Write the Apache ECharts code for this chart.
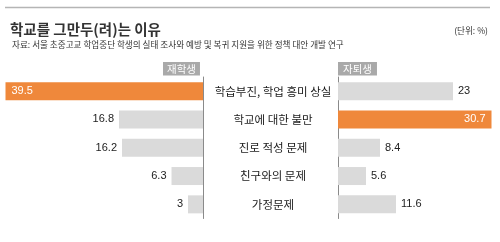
<!DOCTYPE html>
<html><head><meta charset="utf-8">
<script src="https://cdn.jsdelivr.net/npm/echarts@6/dist/echarts.min.js"></script>
<style>html,body{margin:0;padding:0;background:#fff}#c{width:500px;height:242px}</style>
</head><body><div id="c"></div>
<script>
const categories = ['학습부진, 학업 흥미 상실', '학교에 대한 불만', '진로 적성 문제', '친구와의 문제', '가정문제'];
const enrolled = [39.5, 16.8, 16.2, 6.3, 3];      // 재학생
const dropouts = [23, 30.7, 8.4, 5.6, 11.6];      // 자퇴생
const seriesNames = ['재학생', '자퇴생'];
const titleText = '학교를 그만두(려)는 이유';
const sourceText = '자료: 서울 초중고교 학업중단 학생의 실태 조사와 예방 및 복귀 지원을 위한 정책 대안 개발 연구';
const unitText = '(단위: %)';

const ORANGE = '#EF883B', GRAY = '#DADADA', KR = '"Noto Sans CJK KR", sans-serif', NUM = '"Liberation Sans", Arial, sans-serif';

function build(values, side) {
  const mx = Math.max(...values);
  return values.map(v => {
    const hi = v === mx;
    return {
      value: v,
      itemStyle: { color: hi ? ORANGE : GRAY },
      label: hi
        ? { position: side === 'L' ? 'insideLeft' : 'insideRight', color: '#fff', distance: 6 }
        : { position: side === 'L' ? 'left' : 'right', color: '#222', distance: 5 }
    };
  });
}

const chart = echarts.init(document.getElementById('c'), null, { renderer: 'canvas' });
chart.setOption({
  animation: false,
  backgroundColor: '#fff',
  title: [
    { text: titleText, left: 5, top: 17, textStyle: { fontFamily: KR, fontSize: 14.5, fontWeight: 'bold', color: '#333' } },
    { text: sourceText, left: 7, top: 35, textStyle: { fontFamily: KR, fontSize: 8.6, fontWeight: 'normal', color: '#333' } },
    { text: unitText, right: 7, top: 21, textStyle: { fontFamily: KR, fontSize: 8.6, fontWeight: 'normal', color: '#333' } },
    { text: seriesNames[0], left: 163, top: 62, padding: [2, 4, 1, 4], backgroundColor: '#A9A9A9', textStyle: { fontFamily: KR, fontSize: 10.5, fontWeight: 'normal', color: '#fff' } },
    { text: seriesNames[1], left: 338, top: 62, padding: [2, 5, 1, 5], backgroundColor: '#A9A9A9', textStyle: { fontFamily: KR, fontSize: 10.5, fontWeight: 'normal', color: '#fff' } }
  ],
  graphic: [
    { type: 'line', shape: { x1: 5, y1: 7.5, x2: 490, y2: 7.5 }, style: { stroke: '#B5B5B5', lineWidth: 1.5 } }
  ],
  grid: [
    { left: 3, width: 200, top: 77, height: 141.5 },
    { left: 338, width: 160, top: 77, height: 141.5 }
  ],
  xAxis: [
    { type: 'value', gridIndex: 0, inverse: true, min: 0, max: 40, show: false },
    { type: 'value', gridIndex: 1, min: 0, max: 32, show: false }
  ],
  yAxis: [
    { type: 'category', gridIndex: 0, position: 'right', inverse: true, data: categories,
      axisLine: { show: true, lineStyle: { color: '#8A8A8A', width: 1 } }, axisTick: { show: false },
      axisLabel: { margin: 70, align: 'center', fontFamily: KR, fontSize: 11.5, color: '#1a1a1a' } },
    { type: 'category', gridIndex: 1, position: 'left', inverse: true, data: categories,
      axisLine: { show: true, lineStyle: { color: '#8A8A8A', width: 1 } }, axisTick: { show: false }, axisLabel: { show: false } }
  ],
  series: [
    { name: seriesNames[0], type: 'bar', xAxisIndex: 0, yAxisIndex: 0, barWidth: 18, data: build(enrolled, 'L'),
      label: { show: true, fontFamily: NUM, fontSize: 11 } },
    { name: seriesNames[1], type: 'bar', xAxisIndex: 1, yAxisIndex: 1, barWidth: 18, data: build(dropouts, 'R'),
      label: { show: true, fontFamily: NUM, fontSize: 11 } }
  ]
});
</script></body></html>
